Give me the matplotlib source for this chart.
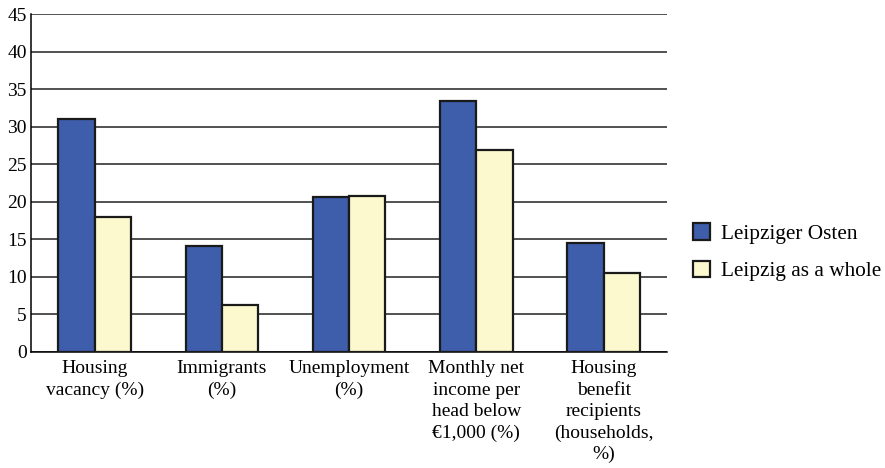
import numpy as np
import matplotlib.pyplot as plt

plt.rcParams['font.family'] = ['Liberation Serif', 'DejaVu Serif']

categorias = ['Housing\nvacancy (%)', 'Immigrants\n(%)', 'Unemployment\n(%)',
              'Monthly net\nincome per\nhead below\n€1,000 (%)',
              'Housing\nbenefit\nrecipients\n(households,\n%)']
osten = [31.0, 14.1, 20.6, 33.4, 14.5]
leipzig = [18.0, 6.3, 20.8, 26.9, 10.5]

fig = plt.figure(figsize=(8.85, 4.68), dpi=100)
ax = fig.add_axes([0.035, 0.248, 0.719, 0.722])

x = np.arange(len(categorias))
w = 0.285
ax.bar(x - w/2, osten, w, color='#3e5dab', edgecolor='#1a1a1a', linewidth=1.6,
       label='Leipziger Osten', zorder=3)
ax.bar(x + w/2, leipzig, w, color='#fbf9cd', edgecolor='#1a1a1a', linewidth=1.6,
       label='Leipzig as a whole', zorder=3)

ax.set_xlim(-0.5, 4.5)
ax.set_ylim(0, 45)
ax.set_yticks(range(0, 46, 5))
ax.yaxis.grid(True, color='#222222', linewidth=1.1, zorder=0)
ax.set_xticks(x)
ax.set_xticklabels(categorias, fontsize=14, linespacing=1.33)
ax.tick_params(axis='both', length=0, labelsize=14)
ax.tick_params(axis='x', pad=6)
ax.tick_params(axis='y', pad=3)
for s in ['top', 'right']:
    ax.spines[s].set_visible(False)
ax.spines['left'].set_linewidth(1.1)
ax.spines['bottom'].set_linewidth(1.1)

fig.legend(loc='center left', bbox_to_anchor=(0.783, 0.461), frameon=False,
           fontsize=15.3, handlelength=0.8, handleheight=0.8, handletextpad=0.5,
           labelspacing=0.78, borderaxespad=0, borderpad=0)

fig.savefig('out.png', dpi=100)
